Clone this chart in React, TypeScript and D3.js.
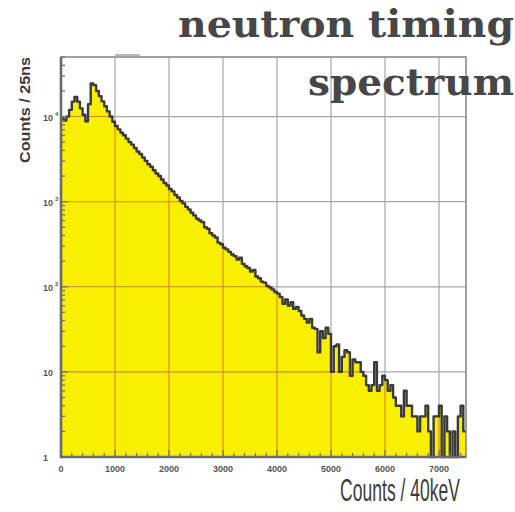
import * as d3 from 'd3';
import React, { useEffect, useRef } from 'react';

// histogram contents, 50 units per bin, from 0 to 7500
const binWidth = 50;
const counts = [
  9500, 9000, 10000, 12000, 15000, 17000, 15000, 12500, 10500, 8800,
  14000, 24500, 23400, 20000, 17400, 15100, 13200, 11500, 10000, 8700,
  7760, 7080, 6460, 6030, 5500, 5010, 4680, 4270, 3890, 3630,
  3310, 3020, 2750, 2570, 2340, 2140, 2000, 1820, 1660, 1550,
  1410, 1320, 1200, 1120, 1020, 955, 870, 810, 740, 690,
  630, 600, 575, 500, 480, 425, 400, 380, 330, 316,
  288, 275, 257, 240, 229, 209, 219, 186, 174, 166,
  151, 158, 132, 126, 115, 112, 102, 98, 93, 87,
  83, 76, 63, 71, 60, 66, 55, 58, 52, 46,
  42, 38, 42, 33, 32, 17, 30, 25, 33, 28,
  10, 20, 21, 10, 15, 18, 17, 9, 14, 13,
  13, 10, 9, 7, 6, 7, 13, 6, 7, 9,
  8, 6, 7, 5, 4, 4, 3, 6, 4, 4,
  3, 3, 2, 3, 3, 4, 2, 1, 3, 3,
  4, 1, 3, 2, 1, 2, 1, 3, 4, 2,
];
const xTicks = [0, 1000, 2000, 3000, 4000, 5000, 6000, 7000];
const yDecades = [1, 10, 100, 1000, 10000];
const yLabels = [
  { base: '1', exp: '' },
  { base: '10', exp: '' },
  { base: '10', exp: '2' },
  { base: '10', exp: '3' },
  { base: '10', exp: '4' },
];

const App: React.FC = () => {
  const ref = useRef<SVGSVGElement>(null);

  useEffect(() => {
    const svg = d3.select(ref.current);
    svg.selectAll('*').remove();

    const left = 61, right = 466, top = 57, bottom = 457;
    const x = d3.scaleLinear().domain([0, 7500]).range([left, right]);
    const y = d3.scaleLog().domain([1, Math.pow(10, 4.7)]).range([bottom, top]);

    const pts = counts.map((c, i) => ({ u: i * binWidth, c }));
    pts.push({ u: counts.length * binWidth, c: counts[counts.length - 1] });

    const area = d3.area<any>()
      .x(d => x(d.u))
      .y0(bottom)
      .y1(d => y(Math.max(1, d.c)))
      .curve(d3.curveStepAfter);
    const line = d3.line<any>()
      .x(d => x(d.u))
      .y(d => y(Math.max(1, d.c)))
      .curve(d3.curveStepAfter);

    const defs = svg.append('defs');
    defs.append('clipPath').attr('id', 'fillclip')
      .append('path').attr('d', area(pts)!);

    // grey grid above the spectrum
    const grid = svg.append('g').attr('stroke', '#a8a8a8').attr('stroke-width', 1.2);
    xTicks.slice(1).forEach(t => {
      grid.append('line').attr('x1', x(t)).attr('x2', x(t)).attr('y1', top).attr('y2', bottom);
    });
    yDecades.slice(1).forEach(t => {
      grid.append('line').attr('x1', left).attr('x2', right).attr('y1', y(t)).attr('y2', y(t));
    });

    // yellow fill
    svg.append('path').attr('d', area(pts)!).attr('fill', '#f8f000');

    // grid seen through the fill
    const grid2 = svg.append('g').attr('clip-path', 'url(#fillclip)')
      .attr('stroke', '#d8862a').attr('stroke-width', 1.1);
    xTicks.slice(1).forEach(t => {
      grid2.append('line').attr('x1', x(t)).attr('x2', x(t)).attr('y1', top).attr('y2', bottom);
    });
    yDecades.slice(1).forEach(t => {
      grid2.append('line').attr('x1', left).attr('x2', right).attr('y1', y(t)).attr('y2', y(t));
    });

    // outline
    svg.append('path').attr('d', line(pts)!)
      .attr('fill', 'none').attr('stroke', '#3a3a3a').attr('stroke-width', 2.4)
      .attr('stroke-linejoin', 'round');

    // frame
    svg.append('rect').attr('x', left).attr('y', top).attr('width', right - left).attr('height', bottom - top)
      .attr('fill', 'none').attr('stroke', '#8a8a8a').attr('stroke-width', 1.6);
    svg.append('line').attr('x1', left).attr('x2', left).attr('y1', top).attr('y2', bottom + 1)
      .attr('stroke', '#6a6a6a').attr('stroke-width', 2.6);
    svg.append('line').attr('x1', left - 1).attr('x2', right).attr('y1', bottom).attr('y2', bottom)
      .attr('stroke', '#6a6a6a').attr('stroke-width', 2.6);
    svg.append('line').attr('x1', 115).attr('x2', 140).attr('y1', 55).attr('y2', 55)
      .attr('stroke', '#888').attr('stroke-width', 1.2);

    // minor ticks
    const ticks = svg.append('g').attr('stroke', '#707070').attr('stroke-width', 1.3);
    d3.range(0, 7600, 200).forEach(t => {
      if (t > 0 && t < 7500) {
        ticks.append('line').attr('x1', x(t)).attr('x2', x(t)).attr('y1', bottom).attr('y2', bottom - (t % 1000 === 0 ? 7 : 4));
      }
    });
    yDecades.forEach(d => {
      d3.range(1, 10).forEach(m => {
        const v = d * m;
        if (v > 1 && v < Math.pow(10, 4.7)) {
          ticks.append('line').attr('x1', left).attr('x2', left + (m === 1 ? 7 : 4)).attr('y1', y(v)).attr('y2', y(v));
        }
      });
    });

    // tick labels
    svg.append('g').selectAll('text').data(xTicks).join('text')
      .attr('x', d => x(d)).attr('y', bottom + 15)
      .attr('text-anchor', 'middle')
      .attr('font-family', 'Liberation Sans, Arial, sans-serif').attr('font-weight', 'bold')
      .attr('font-size', 9).attr('fill', '#555')
      .text(d => String(d));

    const yl = svg.append('g').attr('font-family', 'Liberation Sans, Arial, sans-serif')
      .attr('font-weight', 'bold').attr('fill', '#555');
    yLabels.forEach((l, i) => {
      const t = yl.append('text').attr('y', y(yDecades[i]) + 4).attr('font-size', 9);
      if (l.exp) {
        t.attr('x', 43);
        t.append('tspan').text(l.base);
        t.append('tspan').attr('dy', -5).attr('font-size', 6).attr('dx', 2).text(l.exp);
      } else {
        t.attr('x', l.base === '1' ? 48 : 53).attr('text-anchor', 'end').text(l.base);
      }
    });

    // axis titles
    svg.append('text')
      .attr('transform', 'translate(30,110) rotate(-90)')
      .attr('text-anchor', 'middle')
      .attr('font-family', 'Liberation Sans, Arial, sans-serif').attr('font-weight', 'bold')
      .attr('font-size', 15).attr('fill', '#3a3a3a')
      .attr('textLength', 106).attr('lengthAdjust', 'spacingAndGlyphs')
      .text('Counts / 25ns');

    // condensed label, squeezed horizontally
    svg.append('text')
      .attr('transform', 'translate(460,501) scale(0.566,1)')
      .attr('text-anchor', 'end')
      .attr('font-family', 'Liberation Sans, Arial, sans-serif')
      .attr('font-size', 31).attr('fill', '#3c3c3c')
      .text('Counts / 40keV');

    // title
    const title = svg.append('g').attr('font-family', 'DejaVu Serif, serif')
      .attr('font-weight', 'bold').attr('font-size', 38).attr('fill', '#474747');
    title.append('text').attr('x', 178).attr('y', 37)
      .attr('textLength', 336).attr('lengthAdjust', 'spacingAndGlyphs')
      .text('neutron timing');
    title.append('text').attr('x', 308).attr('y', 95)
      .attr('textLength', 206).attr('lengthAdjust', 'spacingAndGlyphs')
      .text('spectrum');
  }, []);

  return (
    <svg ref={ref} width={515} height={512}
      style={{ position: 'absolute', left: 0, top: 0, background: '#fff' }} />
  );
};

export default App;
